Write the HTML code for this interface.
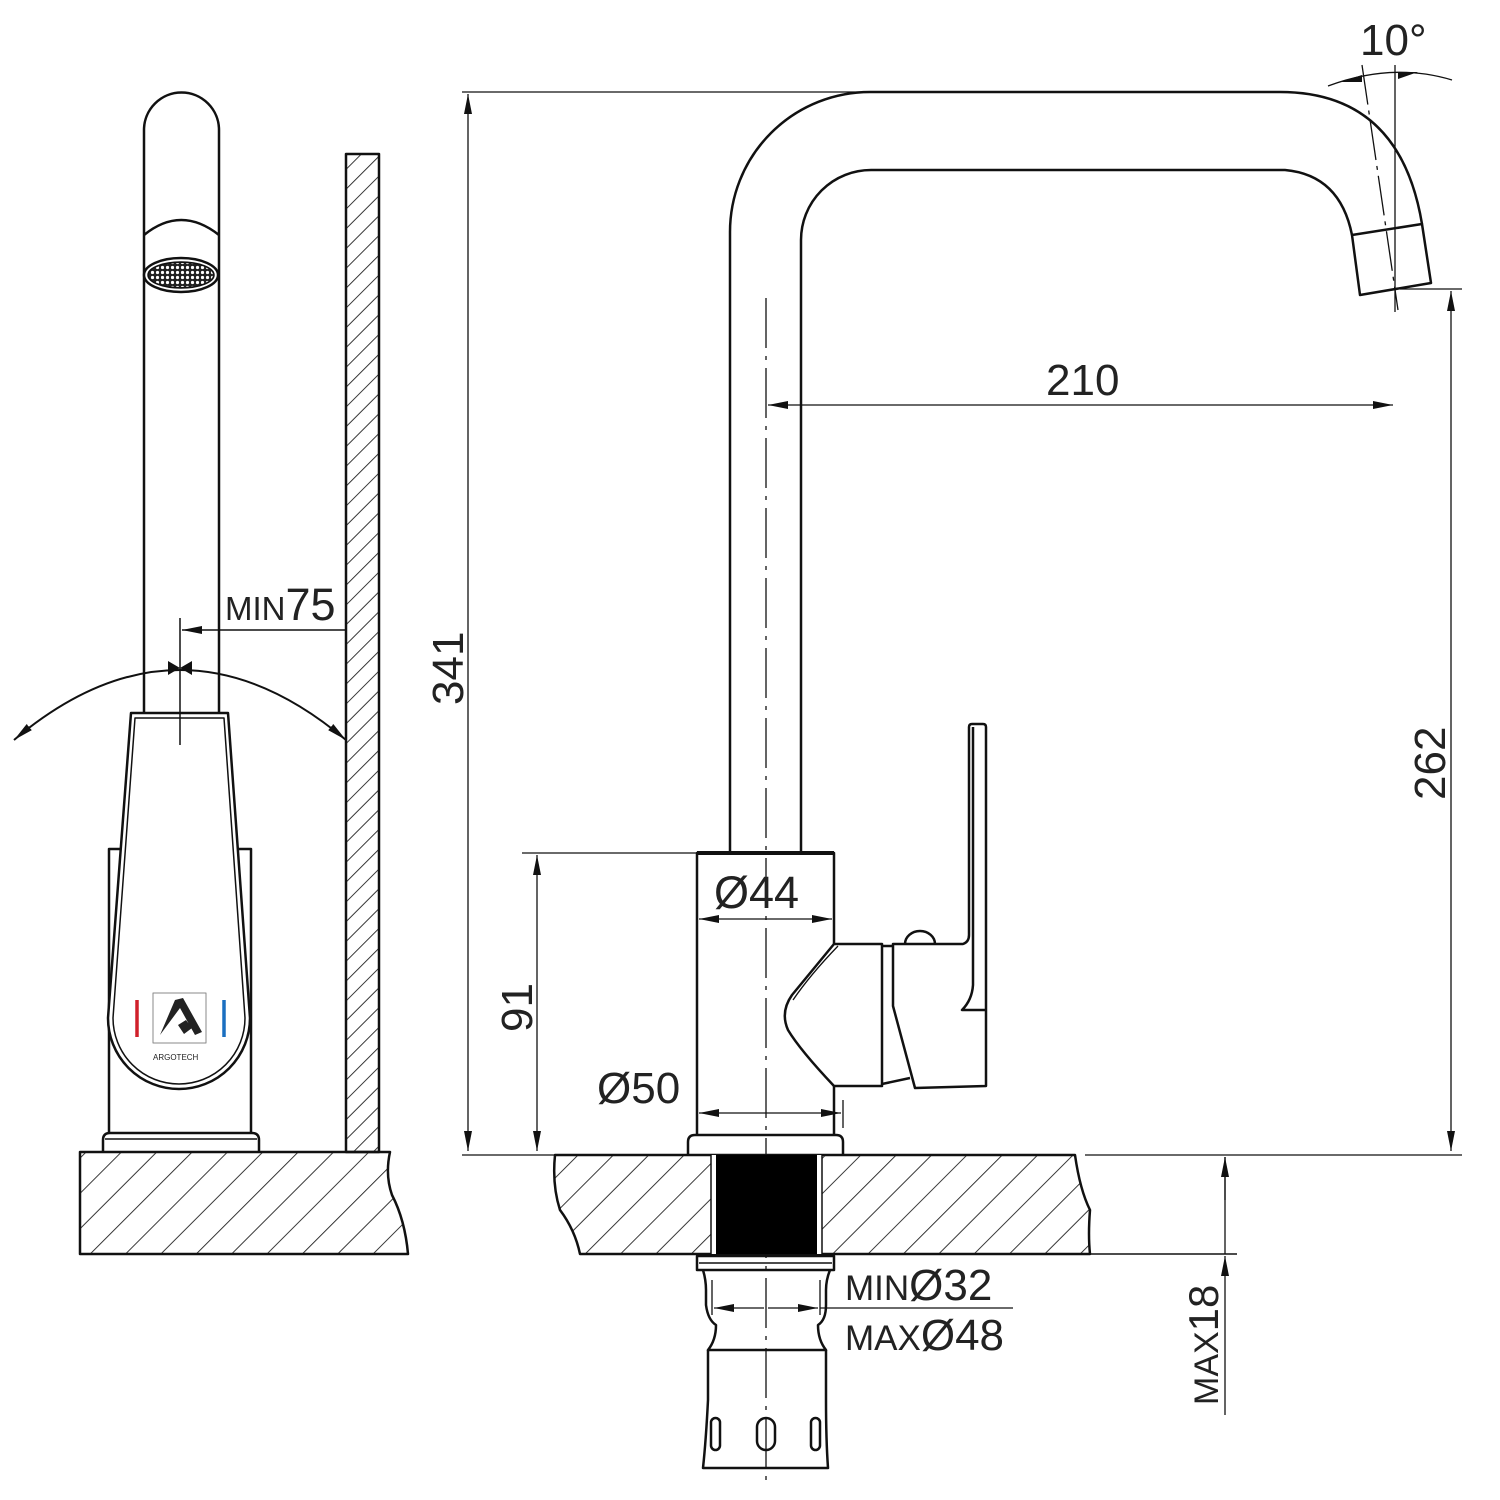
<!DOCTYPE html>
<html><head><meta charset="utf-8"><style>
html,body{margin:0;padding:0;background:#fff}
svg{display:block}
text{font-family:"Liberation Sans",sans-serif;fill:#222}
</style></head><body>
<svg width="1500" height="1500" viewBox="0 0 1500 1500" xmlns="http://www.w3.org/2000/svg">
<defs>
<pattern id="h1" patternUnits="userSpaceOnUse" width="25" height="25" patternTransform="rotate(45)">
<line x1="0" y1="0" x2="0" y2="25" stroke="#222" stroke-width="1.8"/></pattern>
<pattern id="h2" patternUnits="userSpaceOnUse" width="14" height="14" patternTransform="rotate(45)">
<line x1="0" y1="0" x2="0" y2="14" stroke="#222" stroke-width="1.8"/></pattern>
<pattern id="mesh" patternUnits="userSpaceOnUse" width="5" height="5">
<circle cx="2.5" cy="2.5" r="1.6" fill="#fff"/></pattern>
<marker id="ar" viewBox="0 0 20 8" refX="20" refY="4" markerWidth="20" markerHeight="8" markerUnits="userSpaceOnUse" orient="auto-start-reverse">
<path d="M0,0 L20,4 L0,8 z" fill="#111"/></marker>
</defs>
<g fill="none" stroke="#111" stroke-width="2.5" stroke-linejoin="round">
<path d="M144,713 L144,130 A37.5,37.5 0 0 1 219,130 L219,713"/>
<path d="M144,235 Q181,205 219,235"/>
<ellipse cx="181" cy="275" rx="37" ry="17" fill="#fff"/>
<ellipse cx="181" cy="275" rx="33" ry="13" fill="#222" stroke-width="1.5"/>
<ellipse cx="181" cy="275" rx="32" ry="12" fill="url(#mesh)" stroke="none"/>
<rect x="346" y="154" width="33" height="998" fill="url(#h2)"/>
<path d="M109,1133 L109,849 L121,849 M238,849 L251,849 L251,1133"/>
<path d="M131,713 L228,713 L250,1018 A71,71 0 0 1 108,1018 Z" fill="#fff"/>
<path d="M135,718 L224,718 L245,1018 A66,66 0 0 1 113,1018 Z" stroke-width="1.5"/>
<path d="M103,1152 L103,1140 Q103,1133 110,1133 L252,1133 Q259,1133 259,1140 L259,1152"/>
<line x1="105" y1="1139" x2="257" y2="1139" stroke-width="1.5"/>
<path d="M80,1152 L390,1152 Q385,1175 392,1195 Q405,1220 408,1254 L80,1254 Z" fill="url(#h1)"/>
<line x1="180" y1="618" x2="180" y2="745" stroke-width="1.5"/>
<line x1="346" y1="630" x2="182" y2="630" stroke-width="1.5" marker-end="url(#ar)"/>
<path d="M14,740 Q180,600 346,740" stroke-width="2" marker-start="url(#ar)" marker-end="url(#ar)"/>
<path d="M168,661 L180,668 L168,675 Z M192,661 L180,668 L192,675 Z" fill="#111" stroke="none"/>
<rect x="153" y="993" width="53" height="50" stroke="#888" stroke-width="1"/>
<path d="M160,1035 L175,1000 L183,998 L202,1032 L195,1035 L180,1008 Z M178,1025 L186,1020 L192,1028 L184,1034 Z" fill="#222" stroke="none"/>
<line x1="137" y1="1000" x2="137" y2="1037" stroke="#d0202a" stroke-width="3.5"/>
<line x1="224" y1="1000" x2="224" y2="1037" stroke="#1a6fc0" stroke-width="3.5"/>

<path d="M730,853 L730,232 A140,140 0 0 1 870,92 L1280,92 Q1400,92 1422,224"/>
<path d="M801,853 L801,240 A70,70 0 0 1 871,170 L1285,170 Q1340,175 1352,235"/>
<path d="M1352,235 L1422,224 L1431,283 L1360,295 Z"/>
<line x1="1395" y1="65" x2="1395" y2="312" stroke-width="1.3"/>
<line x1="1362" y1="65" x2="1398" y2="310" stroke-width="1.3" stroke-dasharray="40,6,4,6"/>
<path d="M1328,86 Q1392,62 1452,80" stroke-width="1.3"/>
<path d="M1340,82 L1362,75 L1362,82 Z M1418,72 L1398,72 L1398,79 Z" fill="#111" stroke="none"/>
<line x1="766" y1="298" x2="766" y2="1480" stroke-width="1.3" stroke-dasharray="50,8,4,8"/>
<path d="M697,1135 L697,853 L834,853 L834,944 M834,1086 L834,1135"/>
<line x1="697" y1="853" x2="834" y2="853" stroke-width="4"/>
<path d="M834,944 L882,944 L882,1086 L834,1086 Q800,1050 788,1030 Q780,1012 792,995 Z"/>
<path d="M838,946 Q810,975 793,1000" stroke-width="1.3"/>
<path d="M882,946 L893,946 M882,1084 L910,1078"/>
<path d="M905,944 A15,13 0 0 1 935,944"/>
<path d="M893,944 L963,944 Q969,942 969,935 L969,727 Q969,724 972,724 L983,724 Q986,724 986,727 L986,1086 L915,1088 L893,1006 Z"/>
<path d="M973,727 L973,985 Q972,1000 962,1010 L986,1010"/>
<path d="M688,1155 L688,1142 Q688,1135 695,1135 L836,1135 Q843,1135 843,1142 L843,1155"/>
<path d="M555,1155 L1075,1155 Q1080,1190 1090,1210 Q1088,1235 1090,1254 L580,1254 Q575,1230 560,1210 Q552,1185 555,1155 Z" fill="url(#h1)"/>
<rect x="711" y="1155" width="111" height="99" fill="#fff" stroke="none"/>
<rect x="716" y="1155" width="101" height="99" fill="#000" stroke="none"/>
<line x1="711" y1="1155" x2="711" y2="1254" stroke-width="1.5"/>
<line x1="822" y1="1155" x2="822" y2="1254" stroke-width="1.5"/>
<line x1="1090" y1="1254" x2="1237" y2="1254" stroke-width="1.5"/>
<path d="M697,1256 L834,1256 L834,1270 L697,1270 Z"/>
<line x1="699" y1="1263" x2="832" y2="1263" stroke-width="1.5"/>
<path d="M703,1270 Q706,1280 706,1290 L706,1305 Q708,1320 716,1325 Q716,1340 708,1350 L826,1350 Q818,1340 818,1325 Q826,1320 826,1305 L826,1290 Q826,1280 830,1270"/>
<path d="M708,1350 L708,1400 Q706,1440 703,1468 L828,1468 Q826,1440 826,1400 L826,1350"/>
<rect x="711" y="1418" width="9" height="32" rx="4.5"/>
<rect x="757" y="1418" width="18" height="32" rx="9"/>
<rect x="811" y="1418" width="9" height="32" rx="4.5"/>
<line x1="712" y1="1280" x2="712" y2="1315" stroke-width="1.3"/>
<line x1="820" y1="1280" x2="820" y2="1315" stroke-width="1.3"/>
<line x1="714" y1="1308" x2="764" y2="1308" stroke-width="1.3" marker-start="url(#ar)"/>
<line x1="768" y1="1308" x2="818" y2="1308" stroke-width="1.3" marker-end="url(#ar)"/>
<line x1="820" y1="1308" x2="1013" y2="1308" stroke-width="1.3"/>
<g stroke-width="1.3">
<line x1="462" y1="92" x2="870" y2="92"/>
<line x1="468" y1="94" x2="468" y2="1151" marker-start="url(#ar)" marker-end="url(#ar)"/>
<line x1="462" y1="1155" x2="555" y2="1155"/>
<line x1="1085" y1="1155" x2="1462" y2="1155"/>
<line x1="1400" y1="289" x2="1462" y2="289"/>
<line x1="1451" y1="291" x2="1451" y2="1151" marker-start="url(#ar)" marker-end="url(#ar)"/>
<line x1="768" y1="405" x2="1393" y2="405" marker-start="url(#ar)" marker-end="url(#ar)"/>
<line x1="522" y1="853" x2="697" y2="853"/>
<line x1="537" y1="855" x2="537" y2="1151" marker-start="url(#ar)" marker-end="url(#ar)"/>
<line x1="699" y1="919" x2="832" y2="919" marker-start="url(#ar)" marker-end="url(#ar)"/>
<line x1="843" y1="1100" x2="843" y2="1128"/>
<line x1="699" y1="1113" x2="841" y2="1113" marker-start="url(#ar)" marker-end="url(#ar)"/>
<line x1="1225" y1="1200" x2="1225" y2="1157" marker-end="url(#ar)"/>
<line x1="1225" y1="1415" x2="1225" y2="1256" marker-end="url(#ar)"/>
<line x1="1225" y1="1157" x2="1225" y2="1254"/>
</g>
</g>
<text x="225" y="620" font-size="33">MIN<tspan font-size="45">75</tspan></text>
<text x="1046" y="395" font-size="44">210</text>
<text x="1360" y="55" font-size="44">10°</text>
<text x="714" y="908" font-size="45">Ø44</text>
<text x="597" y="1103" font-size="44">Ø50</text>
<text x="845" y="1300" font-size="35">MIN<tspan font-size="44">Ø32</tspan></text>
<text x="845" y="1350" font-size="35">MAX<tspan font-size="44">Ø48</tspan></text>
<text transform="translate(463,705) rotate(-90)" font-size="44">341</text>
<text transform="translate(1445,800) rotate(-90)" font-size="44">262</text>
<text transform="translate(532,1032) rotate(-90)" font-size="44">91</text>
<text transform="translate(1218,1405) rotate(-90)" font-size="34">MAX<tspan font-size="42">18</tspan></text>
<text x="153" y="1060" font-size="8">ARGOTECH</text>
</svg>
</body></html>
